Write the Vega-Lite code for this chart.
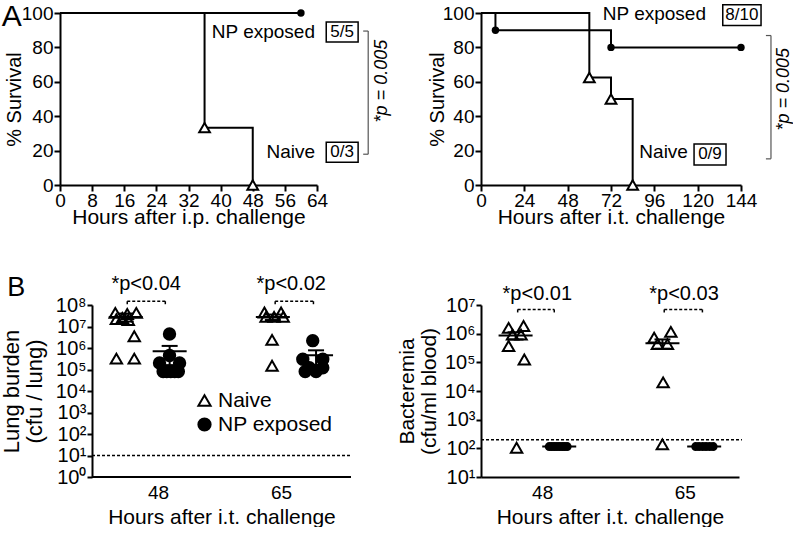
{
  "$schema": "https://vega.github.io/schema/vega-lite/v6.json",
  "padding": {"left": 0, "top": 2, "right": 0, "bottom": 0},
  "background": "white",
  "config": {
    "font": "Liberation Sans",
    "view": {"stroke": null},
    "axis": {"domainColor": "black", "domainWidth": 2, "tickColor": "black", "tickWidth": 2, "tickSize": 6, "labelColor": "black", "titleColor": "black", "labelFontSize": 19, "titleFontSize": 21, "titleFontWeight": "normal", "grid": false, "labelFont": "Liberation Sans", "titleFont": "Liberation Sans", "labelFlush": false, "labelOverlap": false},
    "text": {"font": "Liberation Sans", "color": "black"}
  },
  "datasets": {
    "survip": [
      {"group": "NP exposed", "x": 0, "y": 100}, {"group": "NP exposed", "x": 60, "y": 100},
      {"group": "Naive", "x": 0, "y": 100}, {"group": "Naive", "x": 36, "y": 33.3}, {"group": "Naive", "x": 48, "y": 0}
    ],
    "survit": [
      {"group": "NP exposed", "x": 0, "y": 100}, {"group": "NP exposed", "x": 8, "y": 90}, {"group": "NP exposed", "x": 72, "y": 80}, {"group": "NP exposed", "x": 144, "y": 80},
      {"group": "Naive", "x": 0, "y": 100}, {"group": "Naive", "x": 60, "y": 62.5}, {"group": "Naive", "x": 72, "y": 50}, {"group": "Naive", "x": 84, "y": 0}
    ],
    "ann": [
      {"panel": "ip", "kind": "lab", "x": 63.5, "y": 89, "text": "NP exposed"},
      {"panel": "ip", "kind": "lab", "x": 63.5, "y": 19, "text": "Naive"},
      {"panel": "ip", "kind": "box", "x": 70.27, "y": 88.9, "text": "5/5"},
      {"panel": "ip", "kind": "box", "x": 70.27, "y": 19, "text": "0/3"},
      {"panel": "ip", "kind": "p", "x": 80.2, "y": 60.4, "text": "*p = 0.005"},
      {"panel": "ip", "kind": "letter", "x": -12, "y": 97.5, "text": "A"},
      {"panel": "it", "kind": "lab", "x": 124.6, "y": 99.2, "text": "NP exposed"},
      {"panel": "it", "kind": "lab", "x": 114.6, "y": 19.2, "text": "Naive"},
      {"panel": "it", "kind": "box", "x": 144.5, "y": 98.7, "text": "8/10"},
      {"panel": "it", "kind": "box", "x": 126.8, "y": 17.8, "text": "0/9"},
      {"panel": "it", "kind": "p", "x": 167.8, "y": 55.7, "text": "*p = 0.005"},
      {"panel": "lung", "kind": "pv", "x": 46.35, "y": 930000000, "text": "*p<0.04"},
      {"panel": "lung", "kind": "pv", "x": 66.4, "y": 930000000, "text": "*p<0.02"},
      {"panel": "lung", "kind": "letter", "x": 28.4, "y": 620000000, "text": "B"},
      {"panel": "blood", "kind": "pv", "x": 47.42, "y": 23500000, "text": "*p<0.01"},
      {"panel": "blood", "kind": "pv", "x": 64.9, "y": 23500000, "text": "*p<0.03"}
    ],
    "rects": [
      {"panel": "ip", "x": 66.3, "x2": 74.24, "y": 83.1, "y2": 94.8},
      {"panel": "ip", "x": 66.3, "x2": 74.24, "y": 13.2, "y2": 24.9},
      {"panel": "it", "x": 133.9, "x2": 155.1, "y": 92.7, "y2": 104.8},
      {"panel": "it", "x": 118.0, "x2": 135.7, "y": 11.7, "y2": 23.9}
    ],
    "frame": [
      {"panel": "lung", "x": 38.87, "x2": 74.66, "y": 1, "y2": 1}
    ],
    "segs": [
      {"panel": "ip", "x": 76.75, "x2": 76.75, "y": 17.9, "y2": 89.5},
      {"panel": "ip", "x": 75.5, "x2": 76.75, "y": 89.5, "y2": 89.5},
      {"panel": "ip", "x": 75.5, "x2": 76.75, "y": 17.9, "y2": 17.9},
      {"panel": "it", "x": 160.6, "x2": 160.6, "y": 15.2, "y2": 86.9},
      {"panel": "it", "x": 157.8, "x2": 160.6, "y": 86.9, "y2": 86.9},
      {"panel": "it", "x": 157.8, "x2": 160.6, "y": 15.2, "y2": 15.2},
      {"panel": "lung", "x": 43.74, "x2": 49.0, "y": 150000000, "y2": 150000000},
      {"panel": "lung", "x": 43.74, "x2": 43.74, "y": 150000000, "y2": 90000000},
      {"panel": "lung", "x": 49.0, "x2": 49.0, "y": 150000000, "y2": 90000000},
      {"panel": "lung", "x": 64.18, "x2": 69.47, "y": 150000000, "y2": 150000000},
      {"panel": "lung", "x": 64.18, "x2": 64.18, "y": 150000000, "y2": 90000000},
      {"panel": "lung", "x": 69.47, "x2": 69.47, "y": 150000000, "y2": 90000000},
      {"panel": "lung", "x": 38.87, "x2": 74.66, "y": 10, "y2": 10},
      {"panel": "blood", "x": 45.08, "x2": 49.44, "y": 7000000, "y2": 7000000},
      {"panel": "blood", "x": 45.08, "x2": 45.08, "y": 7000000, "y2": 4700000},
      {"panel": "blood", "x": 49.44, "x2": 49.44, "y": 7000000, "y2": 4700000},
      {"panel": "blood", "x": 62.54, "x2": 67.09, "y": 7000000, "y2": 7000000},
      {"panel": "blood", "x": 62.54, "x2": 62.54, "y": 7000000, "y2": 4700000},
      {"panel": "blood", "x": 67.09, "x2": 67.09, "y": 7000000, "y2": 4700000},
      {"panel": "blood", "x": 40.71, "x2": 71.8, "y": 200, "y2": 200}
    ],
    "lung": [
      {"group": "Naive", "hour": 48, "x": 42.09, "y": 43000000},
      {"group": "Naive", "hour": 48, "x": 43.74, "y": 38000000},
      {"group": "Naive", "hour": 48, "x": 44.99, "y": 43000000},
      {"group": "Naive", "hour": 48, "x": 42.24, "y": 22000000},
      {"group": "Naive", "hour": 48, "x": 43.06, "y": 25000000},
      {"group": "Naive", "hour": 48, "x": 43.88, "y": 20000000},
      {"group": "Naive", "hour": 48, "x": 44.71, "y": 3500000},
      {"group": "Naive", "hour": 48, "x": 42.24, "y": 320000},
      {"group": "Naive", "hour": 48, "x": 44.71, "y": 320000},
      {"group": "NP exposed", "hour": 48, "x": 49.58, "y": 4500000},
      {"group": "NP exposed", "hour": 48, "x": 49.58, "y": 450000},
      {"group": "NP exposed", "hour": 48, "x": 48.2, "y": 200000},
      {"group": "NP exposed", "hour": 48, "x": 50.97, "y": 200000},
      {"group": "NP exposed", "hour": 48, "x": 48.7, "y": 80000},
      {"group": "NP exposed", "hour": 48, "x": 49.2, "y": 80000},
      {"group": "NP exposed", "hour": 48, "x": 49.75, "y": 80000},
      {"group": "NP exposed", "hour": 48, "x": 50.3, "y": 80000},
      {"group": "NP exposed", "hour": 48, "x": 50.8, "y": 80000},
      {"group": "Naive", "hour": 65, "x": 62.7, "y": 45000000},
      {"group": "Naive", "hour": 65, "x": 65.0, "y": 45000000},
      {"group": "Naive", "hour": 65, "x": 62.93, "y": 28000000},
      {"group": "Naive", "hour": 65, "x": 64.03, "y": 28000000},
      {"group": "Naive", "hour": 65, "x": 65.29, "y": 28000000},
      {"group": "Naive", "hour": 65, "x": 63.75, "y": 2400000},
      {"group": "Naive", "hour": 65, "x": 63.75, "y": 150000},
      {"group": "NP exposed", "hour": 65, "x": 69.37, "y": 2200000},
      {"group": "NP exposed", "hour": 65, "x": 68.0, "y": 300000},
      {"group": "NP exposed", "hour": 65, "x": 70.76, "y": 300000},
      {"group": "NP exposed", "hour": 65, "x": 68.9, "y": 120000},
      {"group": "NP exposed", "hour": 65, "x": 70.76, "y": 120000},
      {"group": "NP exposed", "hour": 65, "x": 69.83, "y": 80000},
      {"group": "NP exposed", "hour": 65, "x": 68.33, "y": 80000}
    ],
    "lungsum": [
      {"group": "Naive", "hour": 48, "x": 43.53, "y": 28000000, "lo": 17000000, "hi": 40000000},
      {"group": "NP exposed", "hour": 48, "x": 49.6, "y": 700000, "lo": 160000, "hi": 1250000},
      {"group": "Naive", "hour": 65, "x": 63.86, "y": 28000000, "lo": 20000000, "hi": 36000000},
      {"group": "NP exposed", "hour": 65, "x": 69.83, "y": 460000, "lo": 160000, "hi": 780000}
    ],
    "blood": [
      {"group": "Naive", "hour": 48, "x": 44.0, "y": 1600000},
      {"group": "Naive", "hour": 48, "x": 45.78, "y": 1850000},
      {"group": "Naive", "hour": 48, "x": 44.47, "y": 930000},
      {"group": "Naive", "hour": 48, "x": 45.48, "y": 930000},
      {"group": "Naive", "hour": 48, "x": 44.0, "y": 370000},
      {"group": "Naive", "hour": 48, "x": 45.87, "y": 126000},
      {"group": "Naive", "hour": 48, "x": 44.95, "y": 105},
      {"group": "NP exposed", "hour": 48, "x": 48.84, "y": 115},
      {"group": "NP exposed", "hour": 48, "x": 49.15, "y": 115},
      {"group": "NP exposed", "hour": 48, "x": 49.45, "y": 115},
      {"group": "NP exposed", "hour": 48, "x": 49.76, "y": 115},
      {"group": "NP exposed", "hour": 48, "x": 50.07, "y": 115},
      {"group": "NP exposed", "hour": 48, "x": 50.38, "y": 115},
      {"group": "NP exposed", "hour": 48, "x": 50.67, "y": 115},
      {"group": "NP exposed", "hour": 48, "x": 50.98, "y": 115},
      {"group": "Naive", "hour": 65, "x": 61.34, "y": 730000},
      {"group": "Naive", "hour": 65, "x": 63.33, "y": 1150000},
      {"group": "Naive", "hour": 65, "x": 61.73, "y": 430000},
      {"group": "Naive", "hour": 65, "x": 62.92, "y": 430000},
      {"group": "Naive", "hour": 65, "x": 62.41, "y": 20000},
      {"group": "Naive", "hour": 65, "x": 62.32, "y": 138},
      {"group": "NP exposed", "hour": 65, "x": 66.29, "y": 115},
      {"group": "NP exposed", "hour": 65, "x": 66.69, "y": 115},
      {"group": "NP exposed", "hour": 65, "x": 67.12, "y": 115},
      {"group": "NP exposed", "hour": 65, "x": 67.52, "y": 115},
      {"group": "NP exposed", "hour": 65, "x": 67.95, "y": 115},
      {"group": "NP exposed", "hour": 65, "x": 68.37, "y": 115}
    ],
    "bloodsum": [
      {"group": "Naive", "hour": 48, "x": 44.83, "y": 870000, "lo": 620000, "hi": 1120000},
      {"group": "NP exposed", "hour": 48, "x": 50.03, "y": 115, "lo": 115, "hi": 115},
      {"group": "Naive", "hour": 65, "x": 62.33, "y": 460000, "lo": 300000, "hi": 630000},
      {"group": "NP exposed", "hour": 65, "x": 67.3, "y": 115, "lo": 115, "hi": 115}
    ]
  },
  "columns": 2,
  "bounds": "flush",
  "align": "each",
  "spacing": {"row": 120, "column": 130},
  "resolve": {
    "scale": {"shape": "independent", "fill": "independent", "stroke": "independent"},
    "legend": {"shape": "independent", "fill": "independent", "stroke": "independent"}
  },
  "concat": [
    {
      "width": 257, "height": 172,
      "encoding": {
        "x": {"field": "x", "type": "quantitative", "scale": {"domain": [0, 64], "nice": false, "zero": false}, "axis": {"values": [0, 8, 16, 24, 32, 40, 48, 56, 64], "title": "Hours after i.p. challenge", "labelPadding": 0, "titlePadding": -4}},
        "y": {"field": "y", "type": "quantitative", "scale": {"domain": [0, 100], "nice": false}, "axis": {"values": [0, 20, 40, 60, 80, 100], "title": "% Survival", "titleFontSize": 20, "labelPadding": 1, "titlePadding": -3}}
      },
      "layer": [
        {"data": {"name": "survip"}, "mark": {"type": "line", "interpolate": "step-after", "color": "black", "strokeWidth": 2}, "encoding": {"detail": {"field": "group"}}},
        {"data": {"name": "survip"}, "transform": [{"filter": "datum.x > 0 && datum.group == 'Naive'"}], "mark": {"type": "point", "shape": "triangle-up", "filled": true, "fill": "white", "stroke": "black", "strokeWidth": 2, "size": 115, "opacity": 1}},
        {"data": {"name": "survip"}, "transform": [{"filter": "datum.x > 0 && datum.group == 'NP exposed'"}], "mark": {"type": "circle", "color": "black", "size": 55, "opacity": 1}},
        {"data": {"name": "rects"}, "transform": [{"filter": "datum.panel == 'ip'"}], "mark": {"type": "rect", "fill": "transparent", "stroke": "black", "strokeWidth": 1.5}, "encoding": {"x2": {"field": "x2"}, "y2": {"field": "y2"}}},
        {"data": {"name": "segs"}, "transform": [{"filter": "datum.panel == 'ip'"}], "mark": {"type": "rule", "color": "#555555", "strokeWidth": 1.2}, "encoding": {"x2": {"field": "x2"}, "y2": {"field": "y2"}}},
        {"data": {"name": "ann"}, "transform": [{"filter": "datum.panel == 'ip' && datum.kind == 'lab'"}], "mark": {"type": "text", "align": "right", "baseline": "middle", "fontSize": 19}, "encoding": {"text": {"field": "text"}}},
        {"data": {"name": "ann"}, "transform": [{"filter": "datum.panel == 'ip' && datum.kind == 'box'"}], "mark": {"type": "text", "align": "center", "baseline": "middle", "fontSize": 17}, "encoding": {"text": {"field": "text"}}},
        {"data": {"name": "ann"}, "transform": [{"filter": "datum.panel == 'ip' && datum.kind == 'p'"}], "mark": {"type": "text", "align": "center", "baseline": "middle", "fontSize": 18, "fontStyle": "italic", "angle": 270}, "encoding": {"text": {"field": "text"}}},
        {"data": {"name": "ann"}, "transform": [{"filter": "datum.panel == 'ip' && datum.kind == 'letter'"}], "mark": {"type": "text", "align": "center", "baseline": "middle", "fontSize": 30}, "encoding": {"text": {"field": "text"}}}
      ]
    },
    {
      "width": 260, "height": 172,
      "encoding": {
        "x": {"field": "x", "type": "quantitative", "scale": {"domain": [0, 144], "nice": false, "zero": false}, "axis": {"values": [0, 24, 48, 72, 96, 120, 144], "title": "Hours after i.t. challenge", "labelPadding": 0, "titlePadding": -4}},
        "y": {"field": "y", "type": "quantitative", "scale": {"domain": [0, 100], "nice": false}, "axis": {"values": [0, 20, 40, 60, 80, 100], "title": "% Survival", "titleFontSize": 20, "labelPadding": 1, "titlePadding": -5}}
      },
      "layer": [
        {"data": {"name": "survit"}, "mark": {"type": "line", "interpolate": "step-after", "color": "black", "strokeWidth": 2}, "encoding": {"detail": {"field": "group"}}},
        {"data": {"name": "survit"}, "transform": [{"filter": "datum.x > 0 && datum.group == 'Naive'"}], "mark": {"type": "point", "shape": "triangle-up", "filled": true, "fill": "white", "stroke": "black", "strokeWidth": 2, "size": 115, "opacity": 1}},
        {"data": {"name": "survit"}, "transform": [{"filter": "datum.x > 0 && datum.group == 'NP exposed'"}], "mark": {"type": "circle", "color": "black", "size": 55, "opacity": 1}},
        {"data": {"name": "rects"}, "transform": [{"filter": "datum.panel == 'it'"}], "mark": {"type": "rect", "fill": "transparent", "stroke": "black", "strokeWidth": 1.5}, "encoding": {"x2": {"field": "x2"}, "y2": {"field": "y2"}}},
        {"data": {"name": "segs"}, "transform": [{"filter": "datum.panel == 'it'"}], "mark": {"type": "rule", "color": "#555555", "strokeWidth": 1.2}, "encoding": {"x2": {"field": "x2"}, "y2": {"field": "y2"}}},
        {"data": {"name": "ann"}, "transform": [{"filter": "datum.panel == 'it' && datum.kind == 'lab'"}], "mark": {"type": "text", "align": "right", "baseline": "middle", "fontSize": 19}, "encoding": {"text": {"field": "text"}}},
        {"data": {"name": "ann"}, "transform": [{"filter": "datum.panel == 'it' && datum.kind == 'box'"}], "mark": {"type": "text", "align": "center", "baseline": "middle", "fontSize": 17}, "encoding": {"text": {"field": "text"}}},
        {"data": {"name": "ann"}, "transform": [{"filter": "datum.panel == 'it' && datum.kind == 'p'"}], "mark": {"type": "text", "align": "center", "baseline": "middle", "fontSize": 18, "fontStyle": "italic", "angle": 270}, "encoding": {"text": {"field": "text"}}}
      ]
    },
    {
      "width": 291, "height": 172,
      "encoding": {
        "x": {"field": "x", "type": "quantitative", "scale": {"domain": [34.448, 74.66], "nice": false, "zero": false}, "axis": {"values": [48, 65], "ticks": false, "domain": false, "title": "Hours after i.t. challenge", "titleX": 161.5, "labelPadding": 6, "titlePadding": 4}},
        "y": {"field": "y", "type": "quantitative", "scale": {"type": "log", "domain": [1, 100000000], "nice": false}, "axis": {"offset": -32, "values": [1, 10, 100, 1000, 10000, 100000, 1000000, 10000000, 100000000], "labelExpr": "'10' + ['⁰','¹','²','³','⁴','⁵','⁶','⁷','⁸'][round(log(datum.value)/LN10)]", "labelFontSize": 20, "tickSize": 5, "labelPadding": 1, "title": ["Lung burden", "(cfu / lung)"], "titleFontSize": 22, "titleLineHeight": 23, "titlePadding": 9}}
      },
      "layer": [
        {"data": {"name": "frame"}, "mark": {"type": "rule", "color": "black", "strokeWidth": 2}, "encoding": {"x2": {"field": "x2"}, "y2": {"field": "y2"}}},
        {"data": {"name": "segs"}, "transform": [{"filter": "datum.panel == 'lung'"}], "mark": {"type": "rule", "color": "black", "strokeWidth": 1.5, "strokeDash": [3, 2]}, "encoding": {"x2": {"field": "x2"}, "y2": {"field": "y2"}}},
        {"data": {"name": "lung"}, "mark": {"type": "point", "strokeWidth": 2, "size": 130, "opacity": 1},
         "encoding": {
           "shape": {"field": "group", "type": "nominal", "scale": {"domain": ["Naive", "NP exposed"], "range": ["triangle-up", "circle"]}, "legend": {"title": null, "orient": "none", "legendX": 134, "legendY": 85, "padding": 0, "labelFontSize": 21, "labelColor": "black", "symbolSize": 150, "symbolStrokeWidth": 2, "labelOffset": 3, "rowPadding": 2}},
           "fill": {"field": "group", "type": "nominal", "scale": {"domain": ["Naive", "NP exposed"], "range": ["transparent", "black"]}, "legend": {"title": null, "orient": "none", "legendX": 134, "legendY": 85, "padding": 0, "labelFontSize": 21, "labelColor": "black", "symbolSize": 150, "symbolStrokeWidth": 2, "labelOffset": 3, "rowPadding": 2}},
           "stroke": {"field": "group", "type": "nominal", "scale": {"domain": ["Naive", "NP exposed"], "range": ["black", "black"]}, "legend": {"title": null, "orient": "none", "legendX": 134, "legendY": 85, "padding": 0, "labelFontSize": 21, "labelColor": "black", "symbolSize": 150, "symbolStrokeWidth": 2, "labelOffset": 3, "rowPadding": 2}}
         }},
        {"data": {"name": "lungsum"}, "mark": {"type": "tick", "orient": "horizontal", "size": 34, "thickness": 2, "color": "black", "opacity": 1}},
        {"data": {"name": "lungsum"}, "transform": [{"fold": ["lo", "hi"], "as": ["k", "y"]}], "mark": {"type": "tick", "orient": "horizontal", "size": 16, "thickness": 2, "color": "black", "opacity": 1}},
        {"data": {"name": "lungsum"}, "transform": [{"fold": ["lo"], "as": ["k", "y"]}], "mark": {"type": "rule", "color": "black", "strokeWidth": 2}, "encoding": {"y2": {"field": "hi"}}},
        {"data": {"name": "ann"}, "transform": [{"filter": "datum.panel == 'lung' && datum.kind == 'pv'"}], "mark": {"type": "text", "align": "center", "baseline": "middle", "fontSize": 20}, "encoding": {"text": {"field": "text"}}},
        {"data": {"name": "ann"}, "transform": [{"filter": "datum.panel == 'lung' && datum.kind == 'letter'"}], "mark": {"type": "text", "align": "center", "baseline": "middle", "fontSize": 27}, "encoding": {"text": {"field": "text"}}}
      ]
    },
    {
      "width": 258, "height": 172,
      "encoding": {
        "x": {"field": "x", "type": "quantitative", "scale": {"domain": [40.71, 71.45], "nice": false, "zero": false}, "axis": {"values": [48, 65], "ticks": false, "title": "Hours after i.t. challenge", "labelPadding": 6, "titlePadding": 4}},
        "y": {"field": "y", "type": "quantitative", "scale": {"type": "log", "domain": [10, 10000000], "nice": false}, "axis": {"values": [10, 100, 1000, 10000, 100000, 1000000, 10000000], "labelExpr": "'10' + ['⁰','¹','²','³','⁴','⁵','⁶','⁷','⁸'][round(log(datum.value)/LN10)]", "labelFontSize": 20, "tickSize": 5, "labelPadding": 1, "title": ["Bacteremia", "(cfu/ml blood)"], "titleFontSize": 21, "titleLineHeight": 22, "titlePadding": 5}}
      },
      "layer": [
        {"data": {"name": "segs"}, "transform": [{"filter": "datum.panel == 'blood'"}], "mark": {"type": "rule", "color": "black", "strokeWidth": 1.5, "strokeDash": [3, 2]}, "encoding": {"x2": {"field": "x2"}, "y2": {"field": "y2"}}},
        {"data": {"name": "blood"}, "transform": [{"filter": "datum.group == 'Naive'"}], "mark": {"type": "point", "shape": "triangle-up", "filled": false, "stroke": "black", "strokeWidth": 2, "size": 130, "opacity": 1}},
        {"data": {"name": "blood"}, "transform": [{"filter": "datum.group == 'NP exposed'"}], "mark": {"type": "circle", "color": "black", "size": 80, "opacity": 1}},
        {"data": {"name": "bloodsum"}, "mark": {"type": "tick", "orient": "horizontal", "size": 34, "thickness": 2, "color": "black", "opacity": 1}},
        {"data": {"name": "bloodsum"}, "transform": [{"filter": "datum.group == 'Naive'"}, {"fold": ["lo", "hi"], "as": ["k", "y"]}], "mark": {"type": "tick", "orient": "horizontal", "size": 16, "thickness": 2, "color": "black", "opacity": 1}},
        {"data": {"name": "bloodsum"}, "transform": [{"filter": "datum.group == 'Naive'"}, {"fold": ["lo"], "as": ["k", "y"]}], "mark": {"type": "rule", "color": "black", "strokeWidth": 2}, "encoding": {"y2": {"field": "hi"}}},
        {"data": {"name": "ann"}, "transform": [{"filter": "datum.panel == 'blood' && datum.kind == 'pv'"}], "mark": {"type": "text", "align": "center", "baseline": "middle", "fontSize": 20}, "encoding": {"text": {"field": "text"}}}
      ]
    }
  ]
}
